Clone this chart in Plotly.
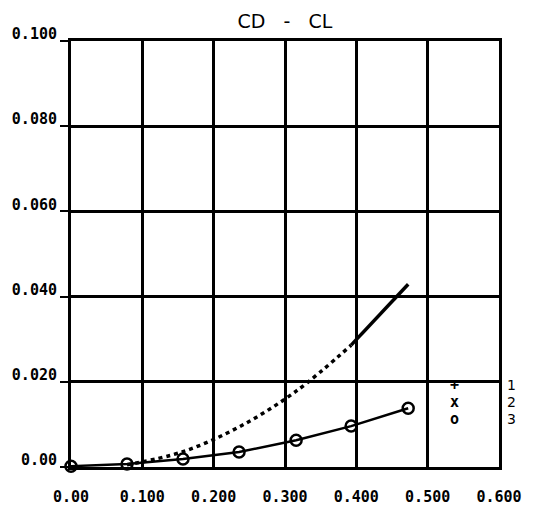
import plotly.graph_objects as go

# ---- data ----
cl_3 = [0.0, 0.0785, 0.157, 0.2356, 0.3156, 0.3927, 0.4727]
cd_3 = [0.0002, 0.0007, 0.0019, 0.0035, 0.0063, 0.0096, 0.0138]

cl_2 = [0.0785, 0.157, 0.2356, 0.3156, 0.3927]
cd_2 = [0.0005, 0.0036, 0.0094, 0.0178, 0.0286]

cl_1 = [0.3927, 0.4727]
cd_1 = [0.0286, 0.0429]

x_ticks = [0.0, 0.1, 0.2, 0.3, 0.4, 0.5, 0.6]
x_tick_labels = ["0.00", "0.100", "0.200", "0.300", "0.400", "0.500", "0.600"]
y_ticks = [0.0, 0.02, 0.04, 0.06, 0.08, 0.10]
y_tick_labels = ["0.00", "0.020", "0.040", "0.060", "0.080", "0.100"]

legend_symbols = ["+", "x", "o"]
legend_labels = ["1", "2", "3"]
legend_y = [0.0192, 0.0153, 0.0113]

title_text = "CD - CL"

# ---- figure ----
fig = go.Figure()

fig.add_trace(go.Scatter(
    x=cl_2, y=cd_2, mode="lines", name="2",
    line=dict(color="black", width=3.5, dash="4px,4px", shape="spline"),
))
fig.add_trace(go.Scatter(
    x=cl_1, y=cd_1, mode="lines", name="1",
    line=dict(color="black", width=3.5),
))
fig.add_trace(go.Scatter(
    x=cl_3, y=cd_3, mode="lines+markers", name="3",
    line=dict(color="black", width=2.5),
    marker=dict(symbol="circle-open", size=11, color="black", line=dict(width=2.5, color="black")),
    cliponaxis=False,
))

tick_font = dict(family="DejaVu Sans Mono", size=15, color="black", weight="bold")

fig.update_xaxes(
    range=[0, 0.6], tickvals=x_ticks, ticktext=x_tick_labels,
    showgrid=True, gridcolor="black", gridwidth=2.5,
    showline=True, linecolor="black", linewidth=3, mirror=True,
    zeroline=False, ticks="", tickfont=tick_font, ticklabelstandoff=14,
    automargin=False,
)
fig.update_yaxes(
    range=[0, 0.1], tickvals=y_ticks, ticktext=y_tick_labels,
    showgrid=True, gridcolor="black", gridwidth=2.5,
    showline=True, linecolor="black", linewidth=3, mirror=True,
    zeroline=False, ticks="outside", ticklen=8, tickwidth=2, tickcolor="black",
    tickfont=tick_font, ticklabelstandoff=0, ticklabelshift=-7,
    automargin=False,
)

annotations = []
for s, lab, yv in zip(legend_symbols, legend_labels, legend_y):
    annotations.append(dict(
        x=0.538, y=yv, xref="x", yref="y", text=s, showarrow=False,
        xanchor="center",
        font=dict(family="DejaVu Sans Mono", size=15, color="black", weight="bold"),
    ))
    annotations.append(dict(
        x=1.03, y=yv, xref="paper", yref="y", text=lab, showarrow=False,
        xanchor="center",
        font=dict(family="DejaVu Sans", size=14, color="black"),
    ))

# the page body adds an 8px margin, so the figure is 8px smaller
W, H = 527, 497
fig.update_layout(
    width=W, height=H,
    margin=dict(l=63, r=36, t=33, b=38),
    paper_bgcolor="white", plot_bgcolor="white",
    showlegend=False,
    title=dict(
        text=title_text.replace(" ", "\u00a0\u00a0\u00a0"),
        x=277 / W, xanchor="center", y=1 - 13 / H, yanchor="middle",
        font=dict(family="DejaVu Sans", size=19, color="black"),
    ),
    annotations=annotations,
)

fig.write_html("out.html")
